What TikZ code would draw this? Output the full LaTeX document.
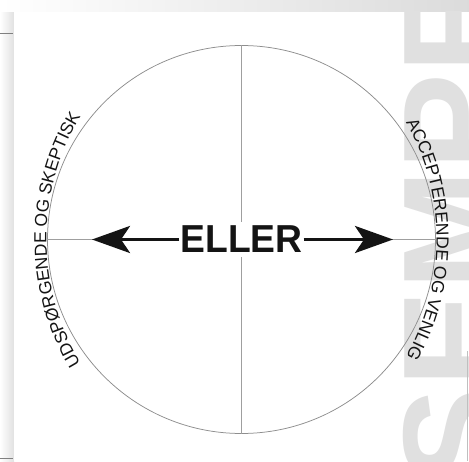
\documentclass[tikz,border=0pt]{standalone}
\usepackage{fontspec}
\usepackage{graphicx}
\setmainfont{Liberation Sans}
\usetikzlibrary{arrows.meta,decorations.text}
\definecolor{ink}{HTML}{141414}
\definecolor{rulec}{HTML}{8E8E8E}
\definecolor{wm}{HTML}{E0E0E0}
\begin{document}
\begin{tikzpicture}[x=1pt,y=1pt,
  ring/.style={circle, draw=rulec, line width=0.75pt, minimum size=388pt, inner sep=0pt},
  axisline/.style={draw=rulec!85, line width=0.6pt},
  bigarrow/.style={draw=ink, line width=3.6pt, -{Stealth[length=38pt,width=27pt,inset=9pt]}},
  arclabel/.style={decorate, decoration={text along path, text align=center, text color=ink}},
  edgemark/.style={draw=black!50, line width=0.8pt},
]
\path[use as bounding box] (0,0) rectangle (469,461);
% margins around the page
\shade[left color=white, right color=black!12] (0,0) rectangle (14,461);
\shade[left color=white, right color=black!14] (0,449) rectangle (469,461);
\fill[white] (14,0) rectangle (469,449);
\draw[edgemark] (0,428) -- (13,428);
\draw[edgemark] (0,3) -- (13,3);
% watermark
\begin{scope}
\clip (14,0) rectangle (469,449);
\node[rotate=90, anchor=base west, inner sep=0pt, text=wm,
      font=\fontsize{145}{150}\selectfont\bfseries] (wmark) at (504,-225) {EKSEMPEL};
\end{scope}
\draw[draw=black!25, line width=0.6pt] (467,0) -- (467,110);
% circle and axes
\coordinate (c) at (241.5,221.5);
\node[ring] (circ) at (c) {};
\draw[axisline] (circ.north) -- (circ.south);
\draw[axisline] (circ.west) -- (circ.east);
\node[fill=white, inner xsep=1pt, inner ysep=4pt, text=ink,
      font=\fontsize{39}{40}\selectfont\bfseries] (eller) at (c) {\scalebox{0.955}[1]{ELLER}};
\coordinate (ltip) at (92,221.5);
\coordinate (rtip) at (393,221.5);
\draw[bigarrow] (eller.west) -- (ltip);
\draw[bigarrow] (eller.east) -- (rtip);
% curved labels
\path (c) ++(235:195pt and 218pt) coordinate (lstart);
\path (c) ++(55:195pt and 218pt) coordinate (rstart);
\path[arclabel, decoration={text={|\fontsize{17.5}{20}\selectfont|UDSPØRGENDE OG SKEPTISK}}]
  (lstart) arc[start angle=235, end angle=125, x radius=195pt, y radius=218pt];
\path[arclabel, decoration={text={|\fontsize{17.5}{20}\selectfont|ACCEPTERENDE OG VENLIG}}]
  (rstart) arc[start angle=55, end angle=-55, x radius=195pt, y radius=218pt];
\end{tikzpicture}
\end{document}
